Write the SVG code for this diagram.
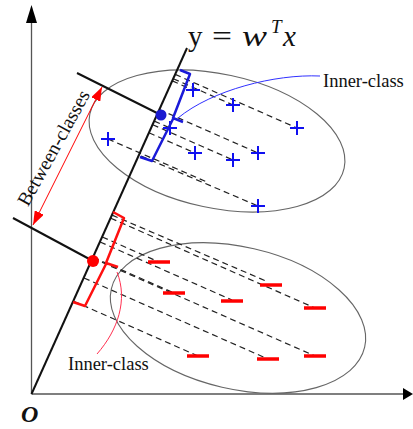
<svg xmlns="http://www.w3.org/2000/svg" width="413" height="429" viewBox="0 0 413 429">
<style>
.axis{stroke:#555;stroke-width:1.3;fill:none}
.ell{stroke:#666;stroke-width:1.1;fill:none}
.proj{stroke:#111;stroke-width:2;fill:none}
.dash{stroke:#222;stroke-width:1.2;stroke-dasharray:6 4;fill:none}
.plus{stroke:#1010f0;stroke-width:2;fill:none}
.minus{stroke:#ff0000;stroke-width:3.5;fill:none}
.bblue{stroke:#1a1ad8;stroke-width:2.5;fill:none;stroke-linejoin:round}
.bred{stroke:#ff1010;stroke-width:2.5;fill:none;stroke-linejoin:round}
.lbl{font-family:"Liberation Serif","Times New Roman",serif;font-size:18.5px;fill:#111}
.math{font-family:"Liberation Serif","Times New Roman",serif;font-size:29px;fill:#111}
</style>
<defs>
<marker id="ah" viewBox="0 0 14 10" refX="14" refY="5" markerWidth="14" markerHeight="10" markerUnits="userSpaceOnUse" orient="auto-start-reverse">
<path d="M0,0 L14,5 L0,10 z" fill="#ff0000"/>
</marker>
</defs>
<rect width="413" height="429" fill="#fff"/>
<g id="axes">
<line class="axis" x1="31.5" y1="394" x2="31.5" y2="22"/>
<polygon points="31.5,5 26,23 37,23" fill="#000"/>
<line class="axis" x1="31.5" y1="394" x2="404" y2="394"/>
<polygon points="413,394 403,388 403,400" fill="#000"/>
<text x="21" y="422" font-family="Liberation Serif,serif" font-size="24" font-style="italic" font-weight="bold" fill="#111">O</text>
</g>
<g id="class1-ellipse">
<ellipse class="ell" cx="217" cy="141" rx="130" ry="67" transform="rotate(12 217 141)"/>
</g>
<g id="class2-ellipse">
<ellipse class="ell" cx="238" cy="318" rx="130" ry="71" transform="rotate(13 238 318)"/>
</g>
<g id="connectors">
<g id="projections-blue">
<line class="dash" x1="172.3" y1="80.9" x2="193" y2="90"/>
<line class="dash" x1="173.3" y1="78.7" x2="233" y2="105"/>
<line class="dash" x1="175.2" y1="74.4" x2="297" y2="128"/>
<line class="dash" x1="159.4" y1="109.6" x2="258" y2="153"/>
<line class="dash" x1="154.3" y1="121.1" x2="170" y2="128"/>
<line class="dash" x1="152.7" y1="124.7" x2="233" y2="160"/>
<line class="dash" x1="149" y1="132.8" x2="195" y2="153"/>
<line class="dash" x1="108" y1="139" x2="207" y2="182"/>
<line class="dash" x1="141" y1="156" x2="258" y2="206"/>
</g>
<g id="projections-red">
<line class="dash" x1="102.3" y1="237" x2="159" y2="262"/>
<line class="dash" x1="93.2" y1="257.4" x2="174" y2="293"/>
<line class="dash" x1="100.1" y1="242" x2="232" y2="300"/>
<line class="dash" x1="112.1" y1="215.1" x2="266" y2="281"/>
<line class="dash" x1="110.8" y1="218.2" x2="315" y2="308"/>
<line class="dash" x1="73.5" y1="301.2" x2="198" y2="356"/>
<line class="dash" x1="84" y1="278" x2="268" y2="359"/>
<line class="dash" x1="92.8" y1="258.3" x2="315" y2="356"/>
</g>
<line id="between-upper" class="proj" x1="77" y1="73" x2="161" y2="115"/>
<line id="between-lower" class="proj" x1="13" y1="218" x2="93" y2="261"/>
<line id="between-arrow" x1="33" y1="225" x2="102" y2="87" stroke="#ff0000" stroke-width="1" marker-start="url(#ah)" marker-end="url(#ah)"/>
<path id="leader-blue" d="M320,76 C275,74 212,90 178,118" stroke="#3030ff" stroke-width="1" fill="none"/>
<path id="leader-red" d="M97,354 C118,330 128,300 117,272" stroke="#ff3050" stroke-width="1" fill="none"/>
</g>
<g id="projection-line">
<line class="proj" x1="31.5" y1="394" x2="187" y2="48"/>
<text class="math" x="188" y="46">y</text>
<text class="math" x="212" y="46" textLength="20" lengthAdjust="spacingAndGlyphs">=</text>
<text class="math" x="242" y="46" font-style="italic" textLength="25" lengthAdjust="spacingAndGlyphs">w</text>
<text class="math" x="271" y="33" font-style="italic" style="font-size:19px">T</text>
<text class="math" x="283" y="46" font-style="italic">x</text>
</g>
<g id="class1">
<g class="plus">
<path d="M186,90 h14 M193,83 v14"/>
<path d="M226,105 h14 M233,98 v14"/>
<path d="M290,128 h14 M297,121 v14"/>
<path d="M101,139 h14 M108,132 v14"/>
<path d="M163,128 h14 M170,121 v14"/>
<path d="M188,153 h14 M195,146 v14"/>
<path d="M226,160 h14 M233,153 v14"/>
<path d="M251,153 h14 M258,146 v14"/>
<path d="M251,206 h14 M258,199 v14"/>
</g>
<path class="bblue" d="M180,70 L190,74 L173,118 L183,122 M173,119 L152,161 L140,157"/>
<circle cx="161" cy="115" r="5.5" fill="#1a1ad0"/>
</g>
<g id="class2">
<g class="minus">
<path d="M148,262 h22"/>
<path d="M163,293 h22"/>
<path d="M221,301 h22"/>
<path d="M260,285 h22"/>
<path d="M304,308 h22"/>
<path d="M187,356 h22"/>
<path d="M257,359 h22"/>
<path d="M304,356 h22"/>
</g>
<path class="bred" d="M113,212 L124,218 L106,263 L118,267 M106,264 L85,306 L73,302"/>
<circle cx="93" cy="261" r="6" fill="#ff0000"/>
</g>
<g id="labels">
<text class="lbl" x="323" y="87">Inner-class</text>
<text class="lbl" x="68" y="370">Inner-class</text>
<text class="lbl" transform="translate(54,148) rotate(-61)" x="0" y="6" text-anchor="middle" style="font-size:19.5px">Between-classes</text>
</g>
</svg>
